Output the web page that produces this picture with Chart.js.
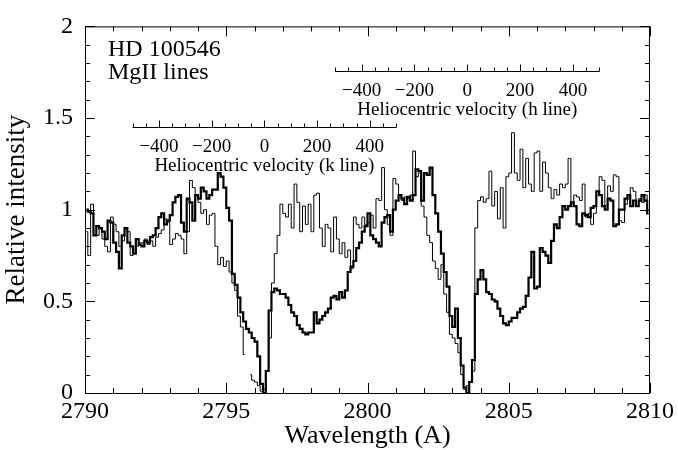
<!DOCTYPE html>
<html>
<head>
<meta charset="utf-8">
<title>HD 100546 MgII lines</title>
<script src="https://cdn.jsdelivr.net/npm/chart.js@4.4.1/dist/chart.umd.min.js"></script>
<style>
  html, body { margin: 0; padding: 0; background: #fff; }
  #wrap { width: 678px; height: 450px; }
</style>
</head>
<body>
<div id="wrap"><canvas id="spec" width="678" height="450"></canvas></div>
<script>
// ── Data ─────────────────────────────────────────────────────────────
// Spectrum sampled in 0.1 A bins, first bin centred on 2790.05 A
const wlStart = 2790.05;
const wlStep  = 0.1;

// thick line, one row per Angstrom (2790 ... 2809)
const fluxThick = [
  1.00, 0.99, 0.98, 0.86, 0.91, 0.90, 0.88, 0.84, 0.94, 0.93,
  0.82, 0.77, 0.68, 0.86, 0.90, 0.82, 0.80, 0.76, 0.84, 0.81,
  0.80, 0.83, 0.82, 0.85, 0.86, 0.90, 0.96, 0.98, 0.92, 0.94,
  0.97, 1.04, 1.07, 1.08, 0.93, 0.88, 1.06, 1.04, 0.94, 1.08,
  1.06, 1.12, 1.10, 1.06, 1.08, 1.11, 1.11, 1.20, 1.18, 1.12,
  1.01, 0.94, 0.65, 0.59, 0.52, 0.44, 0.39, 0.35, 0.33, 0.30,
  0.28, 0.20, 0.05, 0.00, 0.12, 0.45, 0.55, 0.57, 0.56, 0.54,
  0.54, 0.52, 0.48, 0.44, 0.42, 0.37, 0.35, 0.33, 0.32, 0.33,
  0.33, 0.44, 0.38, 0.40, 0.42, 0.44, 0.46, 0.52, 0.53, 0.51,
  0.55, 0.52, 0.56, 0.66, 0.69, 0.72, 0.79, 0.82, 0.88, 0.91,
  0.98, 0.86, 0.84, 0.82, 0.80, 0.93, 0.96, 0.97, 0.88, 1.00,
  1.05, 1.08, 1.06, 1.03, 1.07, 1.05, 1.08, 1.22, 1.21, 1.05,
  1.20, 1.19, 1.23, 1.08, 0.98, 0.88, 0.76, 0.66, 0.58, 0.42,
  0.36, 0.46, 0.30, 0.15, 0.03, 0.00, 0.06, 0.18, 0.54, 0.62,
  0.67, 0.62, 0.55, 0.54, 0.51, 0.50, 0.46, 0.42, 0.38, 0.37,
  0.39, 0.41, 0.41, 0.44, 0.46, 0.47, 0.53, 0.63, 0.77, 0.57,
  0.58, 0.79, 0.77, 0.75, 0.71, 0.83, 0.92, 0.90, 0.96, 1.02,
  1.00, 1.02, 1.04, 1.02, 0.92, 0.91, 0.98, 0.97, 0.96, 1.01,
  1.02, 1.10, 1.08, 1.02, 1.00, 1.06, 1.05, 0.91, 0.92, 1.00,
  1.00, 1.06, 1.08, 1.02, 1.05, 1.02, 1.05, 1.08, 1.05, 0.98,
];

// thin line (null = no data plotted)
const fluxThin = [
  0.88, 0.75, 1.03, 0.86, 0.86, 0.90, 0.84, 0.80, 0.77, 0.96,
  0.92, 0.88, 0.80, 0.83, 0.90, 0.88, 0.75, 0.78, 0.80, 0.82,
  0.82, 0.84, 0.81, 0.83, 0.80, 0.85, 0.87, 0.89, 0.95, 0.93,
  0.81, 0.84, 0.87, 0.86, 0.84, 0.76, 0.88, 1.16, 1.12, 1.08,
  1.04, 0.98, 1.00, 0.92, 0.97, 0.98, 0.80, 0.70, 0.74, 0.69,
  0.72, 0.66, 0.60, 0.56, 0.42, 0.36, 0.21, null, 0.10, 0.07,
  0.06, 0.04, 0.01, 0.02, 0.12, 0.30, 0.60, 0.76, 0.86, 1.03,
  0.98, 0.96, 1.03, 0.90, 1.14, 1.04, 0.88, 1.02, 0.92, 1.03,
  0.88, 1.08, 1.09, 0.90, 0.80, 0.92, 0.90, 0.77, 0.96, 0.84,
  0.76, 0.82, 0.74, 0.78, 0.68, 0.96, 0.92, 0.90, 0.96, 0.92,
  0.93, 0.97, 0.90, 1.06, 1.05, 1.23, 1.00, 0.92, 0.86, 1.17,
  1.14, 1.08, 1.05, 1.07, 1.06, 1.08, 1.32, 1.18, 1.20, 1.02,
  0.96, 0.86, 0.82, 0.72, 0.68, 0.62, 0.70, 0.54, 0.44, 0.32,
  0.30, 0.27, 0.22, 0.10, 0.02, 0.04, 0.06, 0.12, 0.90, 1.05,
  1.07, 1.04, 1.06, 1.21, 1.02, 1.10, 0.95, 1.12, 0.90, 1.18,
  1.20, 1.42, 1.20, 1.16, 1.33, 1.12, 1.28, 1.14, 1.10, 1.31,
  1.32, 1.10, 1.26, 1.20, 1.12, 1.06, 1.11, 1.08, 1.14, 1.12,
  1.14, 1.28, 1.02, 1.08, 1.07, 1.05, 1.14, 0.96, 0.98, 0.92,
  0.98, 1.10, 1.18, 1.16, 1.02, 1.13, 1.10, 1.19, 1.18, 0.94,
  0.93, 1.03, 1.06, 1.12, 1.10, 1.02, 1.06, 1.04, 1.08, 1.00,
];

// axes
const xRange      = [2790, 2810];
const xTickLabels = [2790, 2795, 2800, 2805, 2810];
const xMinorStep  = 1;
const yRange      = [0, 2];
const yTickLabels = [0, 0.5, 1, 1.5, 2];
const yMinorStep  = 0.1;

// velocity scales for the two MgII lines
const velTicks     = [-500, -450, -400, -350, -300, -250, -200, -150, -100, -50, 0,
                      50, 100, 150, 200, 250, 300, 350, 400, 450, 500];
const velLabels    = [-400, -200, 0, 200, 400];
const lineNames    = ['k line', 'h line'];
const lineRestWl   = [2796.35, 2803.53];
const lineAxisAt   = [1.451, 1.757];   // relative-intensity level of each velocity axis

const titleLines   = ['HD 100546', 'MgII lines'];

const C_KMS = 299792.458;
const FONT  = "'Liberation Serif', 'Times New Roman', serif";

// ── Plugin: frame, inward ticks, velocity axes, labels ────────────────
const decorations = {
  id: 'decorations',
  afterDraw(chart) {
    const { ctx, chartArea: a, scales: { x, y } } = chart;
    ctx.save();
    ctx.strokeStyle = '#000';
    ctx.fillStyle = '#000';
    ctx.lineWidth = 1;

    // frame
    ctx.strokeRect(a.left + 0.5, a.top + 0.5, a.right - a.left - 1, a.bottom - a.top);

    ctx.beginPath();
    // x ticks, bottom and top
    const nx = Math.round((xRange[1] - xRange[0]) / xMinorStep);
    for (let i = 0; i <= nx; i++) {
      const v = xRange[0] + i * xMinorStep;
      const px = Math.round(x.getPixelForValue(v)) + 0.5;
      const len = (v % 5 === 0) ? 10 : 5;
      ctx.moveTo(px, a.bottom); ctx.lineTo(px, a.bottom - len);
      ctx.moveTo(px, a.top);    ctx.lineTo(px, a.top + len);
    }
    // y ticks, left and right
    const ny = Math.round((yRange[1] - yRange[0]) / yMinorStep);
    for (let i = 0; i <= ny; i++) {
      const v = yRange[0] + i * yMinorStep;
      const py = Math.round(y.getPixelForValue(v)) + 0.5;
      const len = (i % 5 === 0) ? 10 : 5;
      ctx.moveTo(a.left, py);  ctx.lineTo(a.left + len, py);
      ctx.moveTo(a.right, py); ctx.lineTo(a.right - len, py);
    }
    ctx.stroke();

    // velocity axes
    lineNames.forEach((name, k) => {
      const toPx = v => x.getPixelForValue(lineRestWl[k] * (1 + v / C_KMS));
      const py = Math.round(y.getPixelForValue(lineAxisAt[k])) + 0.5;
      ctx.beginPath();
      ctx.moveTo(toPx(velTicks[0]), py);
      ctx.lineTo(toPx(velTicks[velTicks.length - 1]), py);
      velTicks.forEach(v => {
        const px = Math.round(toPx(v)) + 0.5;
        const len = (v % 200 === 0) ? 7 : 4;
        ctx.moveTo(px, py); ctx.lineTo(px, py - len);
      });
      ctx.stroke();

      ctx.font = `19px ${FONT}`;
      ctx.textAlign = 'center';
      ctx.textBaseline = 'alphabetic';
      velLabels.forEach(v => {
        const txt = v < 0 ? '\u2212' + Math.abs(v) : String(v);
        ctx.fillText(txt, toPx(v), py + 24);
      });
      ctx.fillText(`Heliocentric velocity (${name})`, toPx(0), py + 43);
    });

    // object label
    ctx.font = `24px ${FONT}`;
    ctx.textAlign = 'left';
    ctx.textBaseline = 'alphabetic';
    ctx.fillText(titleLines[0], a.left + 23, a.top + 30);
    ctx.fillText(titleLines[1], a.left + 23, a.top + 53);
    ctx.restore();
  },
};

// ── Chart ────────────────────────────────────────────────────────────
const wavelengths = fluxThick.map((_, i) => +(wlStart + i * wlStep).toFixed(2));

new Chart(document.getElementById('spec'), {
  type: 'line',
  data: {
    datasets: [
      {
        label: 'thin',
        data: wavelengths.map((w, i) => ({ x: w, y: fluxThin[i] })),
        borderColor: '#000',
        borderWidth: 1,
        pointRadius: 0,
        stepped: 'middle',
        fill: false,
        spanGaps: false,
      },
      {
        label: 'thick',
        data: wavelengths.map((w, i) => ({ x: w, y: fluxThick[i] })),
        borderColor: '#000',
        borderWidth: 2.2,
        pointRadius: 0,
        stepped: 'middle',
        fill: false,
      },
    ],
  },
  options: {
    responsive: false,
    animation: false,
    devicePixelRatio: 1,
    layout: { padding: { top: 14, right: 27, left: 0, bottom: 0 } },
    plugins: { legend: { display: false }, tooltip: { enabled: false } },
    scales: {
      x: {
        type: 'linear',
        min: xRange[0],
        max: xRange[1],
        afterBuildTicks(s) { s.ticks = xTickLabels.map(v => ({ value: v })); },
        afterFit(s) { s.height = 57; },
        grid: { display: false, drawTicks: false },
        border: { display: false },
        ticks: {
          color: '#000',
          font: { family: FONT, size: 24 },
          padding: 4,
          maxRotation: 0,
          autoSkip: false,
          callback: v => String(v),
        },
        title: {
          display: true,
          text: 'Wavelength (A)',
          color: '#000',
          font: { family: FONT, size: 26 },
          padding: { top: 0, bottom: -2 },
        },
      },
      y: {
        type: 'linear',
        min: yRange[0],
        max: yRange[1],
        afterBuildTicks(s) { s.ticks = yTickLabels.map(v => ({ value: v })); },
        afterFit(s) { s.width = 85; },
        grid: { display: false, drawTicks: false },
        border: { display: false },
        ticks: {
          color: '#000',
          font: { family: FONT, size: 24 },
          padding: 12,
          callback: v => String(v),
        },
        title: {
          display: true,
          text: 'Relative intensity',
          color: '#000',
          font: { family: FONT, size: 27 },
          padding: { top: 1, bottom: 0 },
        },
      },
    },
  },
  plugins: [decorations],
});
</script>
</body>
</html>
